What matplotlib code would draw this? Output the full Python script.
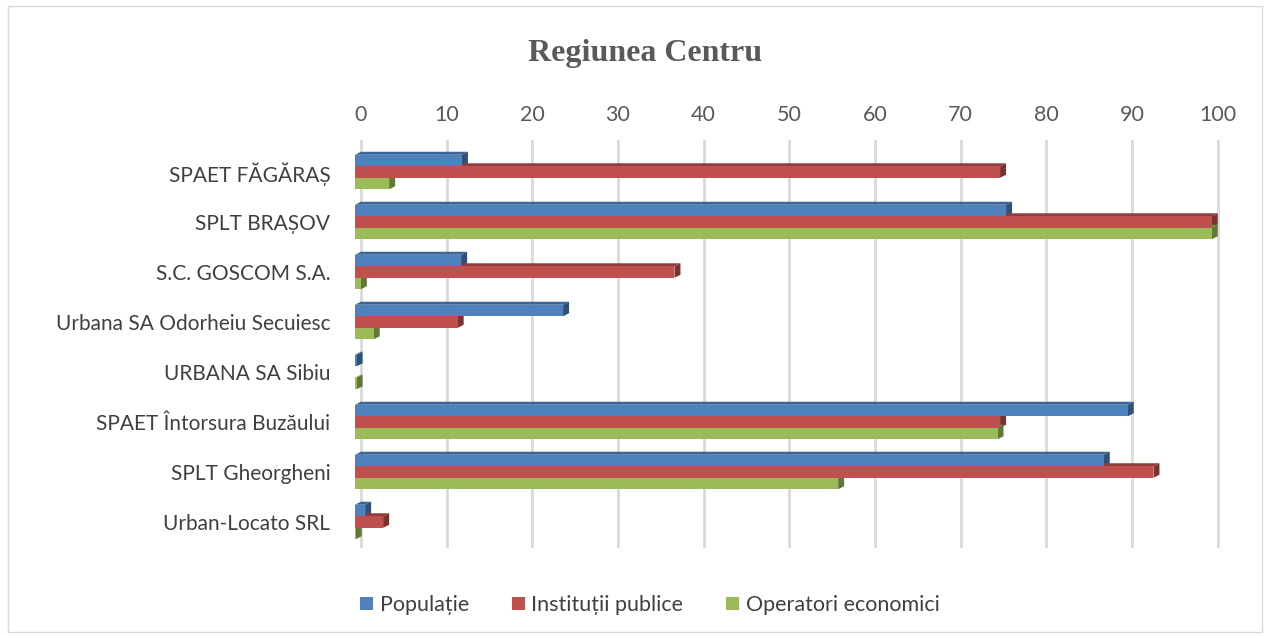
import numpy as np
import matplotlib
matplotlib.use("Agg")
import matplotlib.pyplot as plt
from matplotlib.patches import Rectangle, Polygon, Patch

# data
companies = ["SPAET FĂGĂRAȘ", "SPLT BRAȘOV", "S.C. GOSCOM S.A.",
             "Urbana SA Odorheiu Secuiesc", "URBANA SA Sibiu",
             "SPAET Întorsura Buzăului", "SPLT Gheorgheni", "Urban-Locato SRL"]
populatie = [12.5, 76, 12.4, 24.3, 0.2, 90.2, 87.4, 1.2]
institutii = [75.3, 100, 37.3, 12, 0, 75.3, 93.2, 3.3]
operatori = [4, 100, 0.7, 2.2, 0.2, 75, 56.4, 0.1]
series_names = ["Populație", "Instituții publice", "Operatori economici"]
ticks = list(range(0, 101, 10))

front = ["#4F81BD", "#C0504D", "#9BBB59"]
dark = ["#3B6595", "#913C3A", "#758F43"]
side = ["#2F5079", "#7A3230", "#627836"]

plt.rcParams['font.family'] = ['Lato', 'DejaVu Sans']

fig = plt.figure(figsize=(12.72, 6.37), dpi=100)
fig.patches.append(Rectangle((8 / 1272, 5 / 637), 1254 / 1272, 626 / 637,
                             transform=fig.transFigure, fill=False,
                             edgecolor="#D9D9D9", linewidth=1))

ax = fig.add_axes([0.2783, 0.1413, 0.6824, 0.6279])
ax.set_xlim(-0.8, 100.5)
ax.set_ylim(7.5, -0.5)

for x in ticks:
    ax.plot([x, x], [-0.62, 7.48], color="#D9D9D9", linewidth=2, zorder=0,
            clip_on=False)

h = 0.23   # bar thickness in row units
d = 0.7    # depth offset in x units
dy = 0.06  # depth offset in y units

for s, vals in enumerate([populatie, institutii, operatori]):
    for i, v in enumerate(vals):
        if v <= 0:
            continue
        y0 = i - 1.5 * h + s * h
        y1 = y0 + h
        x0 = -d
        x1 = v - d
        ax.add_patch(Polygon([(x0, y0), (x1, y0), (v, y0 - dy), (0, y0 - dy)],
                             closed=True, facecolor=dark[s], edgecolor="none",
                             zorder=2, clip_on=False))
        ax.add_patch(Polygon([(x1, y0), (v, y0 - dy), (v, y1 - dy), (x1, y1)],
                             closed=True, facecolor=side[s], edgecolor="none",
                             zorder=2, clip_on=False))
        ax.add_patch(Rectangle((x0, y0), v, h, facecolor=front[s],
                               edgecolor="none", zorder=3, clip_on=False))

ax.set_xticks(ticks)
ax.xaxis.tick_top()
ax.tick_params(axis="x", length=0, pad=16, labelsize=15.5, labelcolor="#595959")
ax.set_yticks(range(len(companies)))
ax.set_yticklabels(companies)
ax.tick_params(axis="y", length=0, pad=17, labelsize=15, labelcolor="#404040")
for sp in ax.spines.values():
    sp.set_visible(False)

fig.text(0.507, 0.916, "Regiunea Centru", ha="center", va="center",
         fontsize=23, fontweight="bold", family="Liberation Serif",
         color="#595959")

handles = [Patch(facecolor=c, edgecolor="none") for c in front]
fig.legend(handles, series_names, loc="center", bbox_to_anchor=(0.511, 0.05),
           ncol=3, frameon=False, fontsize=15.5, labelcolor="#404040",
           handlelength=0.6, handleheight=0.6, handletextpad=0.3,
           columnspacing=2.0)

fig.savefig("out.png", dpi=100)
